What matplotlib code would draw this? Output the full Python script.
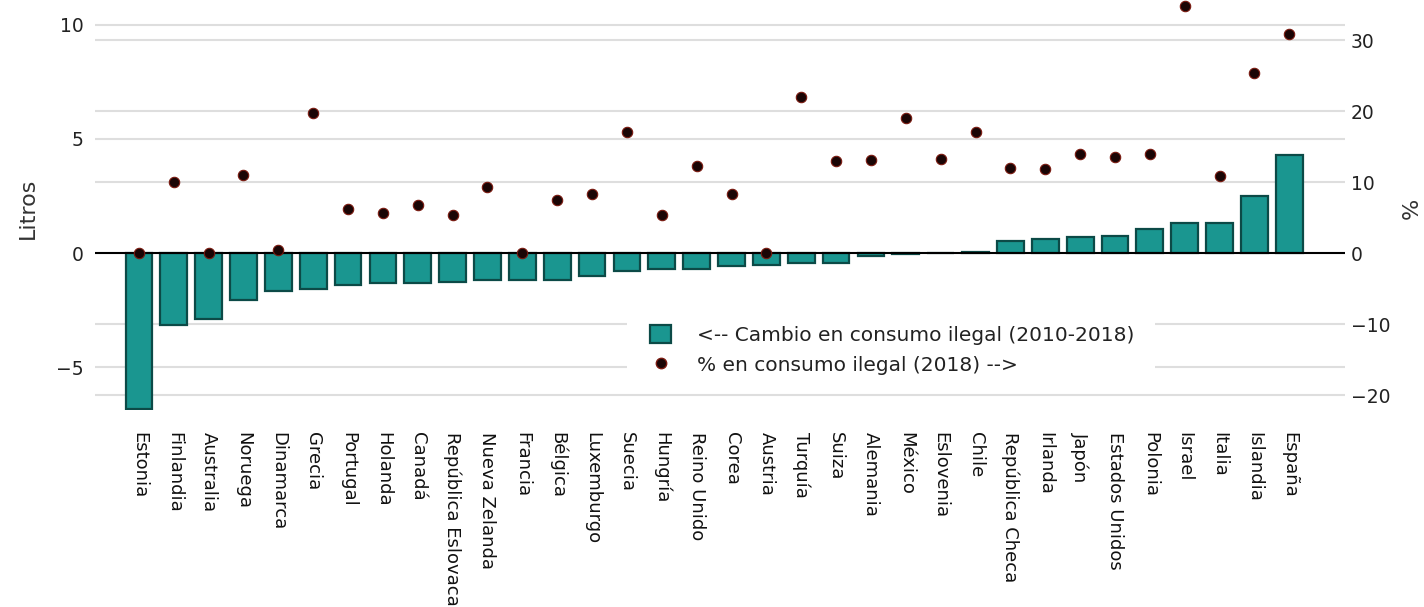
import matplotlib
matplotlib.use("Agg")
import matplotlib.pyplot as plt
from matplotlib.lines import Line2D
from matplotlib.patches import Patch, Rectangle
from matplotlib.transforms import blended_transform_factory

countries = ["Estonia", "Finlandia", "Australia", "Noruega", "Dinamarca", "Grecia",
             "Portugal", "Holanda", "Canadá", "República Eslovaca", "Nueva Zelanda",
             "Francia", "Bélgica", "Luxemburgo", "Suecia", "Hungría", "Reino Unido",
             "Corea", "Austria", "Turquía", "Suiza", "Alemania", "México", "Eslovenia",
             "Chile", "República Checa", "Irlanda", "Japón", "Estados Unidos", "Polonia",
             "Israel", "Italia", "Islandia", "España"]

cambio_litros = [-6.80, -3.14, -2.89, -2.04, -1.65, -1.58, -1.39, -1.31, -1.30, -1.24,
                 -1.17, -1.17, -1.15, -0.99, -0.76, -0.70, -0.70, -0.56, -0.51, -0.44,
                 -0.41, -0.12, -0.02, 0.03, 0.07, 0.55, 0.61, 0.71, 0.76, 1.05,
                 1.31, 1.34, 2.51, 4.30]

pct_ilegal = [0.0, 10.0, 0.0, 11.0, 0.4, 19.7, 6.2, 5.6, 6.8, 5.35,
              9.3, 0.0, 7.5, 8.3, 17.1, 5.35, 12.3, 8.3, 0.0, 22.05,
              13.0, 13.1, 19.05, 13.2, 17.1, 12.0, 11.8, 14.0, 13.6, 14.0,
              34.8, 10.9, 25.4, 30.8]

left_ticks = [-5, 0, 5, 10]
right_ticks = [-20, -10, 0, 10, 20, 30]

W, H = 1424, 607
fig = plt.figure(figsize=(W / 100, H / 100), dpi=100)
ax = fig.add_axes([95 / W, (H - 410) / H, (1345 - 95) / W, 410 / H])
ax2 = ax.twinx()

ylo, yhi = -6.86, 11.08
ratio = 3.218
ax.set_ylim(ylo, yhi)
ax2.set_ylim(ylo * ratio, yhi * ratio)
x = list(range(len(countries)))
ax.set_xlim(-1.26, len(countries) - 1 + 1.6)

grid_c = "#dedede"
for t in left_ticks:
    if t != 0:
        ax.axhline(t, color=grid_c, lw=1.5, zorder=0)
# right-axis gridlines drawn in the left axes (so they stay behind the bars)
tr_right = blended_transform_factory(ax.transAxes, ax2.transData)
for t in right_ticks:
    if t != 0:
        ax.add_line(Line2D([0, 1], [t, t], transform=tr_right, color=grid_c,
                           lw=1.5, zorder=0))

# white legend background hiding the grid
ax.add_patch(Rectangle(((627 - 95) / 1250, (410 - 385) / 410),
                       (1155 - 627) / 1250, (385 - 302) / 410,
                       transform=ax.transAxes, facecolor="white",
                       edgecolor="none", zorder=1))

ax.bar(x, cambio_litros, width=0.77, color="#1a9690", edgecolor="#0c4a47",
       linewidth=1.6, zorder=2)
ax.axhline(0, color="black", lw=1.5, zorder=3)

ax2.plot(x, pct_ilegal, linestyle="none", marker="o", markersize=7.5,
         markerfacecolor="#1a0505", markeredgecolor="#7a1a10", markeredgewidth=0.8,
         zorder=4)

ax.set_zorder(1)
ax.patch.set_visible(False)
ax2.set_zorder(2)
ax2.patch.set_visible(False)

for a in (ax, ax2):
    for s in a.spines.values():
        s.set_visible(False)

ax.set_yticks(left_ticks)
ax.set_yticklabels(["\u22125", "0", "5", "10"])
ax2.set_yticks(right_ticks)
ax2.set_yticklabels(["\u221220", "\u221210", "0", "10", "20", "30"])
ax.tick_params(axis="y", length=0, pad=8, labelsize=13.5, labelcolor="#222222")
ax2.tick_params(axis="y", length=0, pad=4, labelsize=13.5, labelcolor="#222222")

ax.set_xticks(x)
ax.set_xticklabels(countries, rotation=270, ha="center", va="top")
ax.tick_params(axis="x", length=0, pad=16, labelsize=13, labelcolor="#111111")

fig.text(28 / W, 1 - 208 / H, "Litros", rotation=90, ha="center", va="center",
         fontsize=16, color="#333333")
fig.text(1412 / W, 1 - 208 / H, "%", rotation=90, ha="center", va="center",
         fontsize=16, color="#333333")

handles = [Patch(facecolor="#1a9690", edgecolor="#0c4a47", linewidth=1.6),
           Line2D([], [], linestyle="none", marker="o", markersize=7.5,
                  markerfacecolor="#1a0505", markeredgecolor="#7a1a10")]
labels = ["<-- Cambio en consumo ilegal (2010-2018)",
          "% en consumo ilegal (2018) -->"]
leg = fig.legend(handles, labels, loc="upper left",
                 bbox_to_anchor=(650 / W, 1 - 325 / H), frameon=False,
                 fontsize=14.5, handlelength=1.05, handleheight=1.0,
                 handletextpad=1.3, labelspacing=0.5, borderpad=0,
                 borderaxespad=0)
for t in leg.get_texts():
    t.set_color("#222222")

fig.savefig("out.png", dpi=100)
